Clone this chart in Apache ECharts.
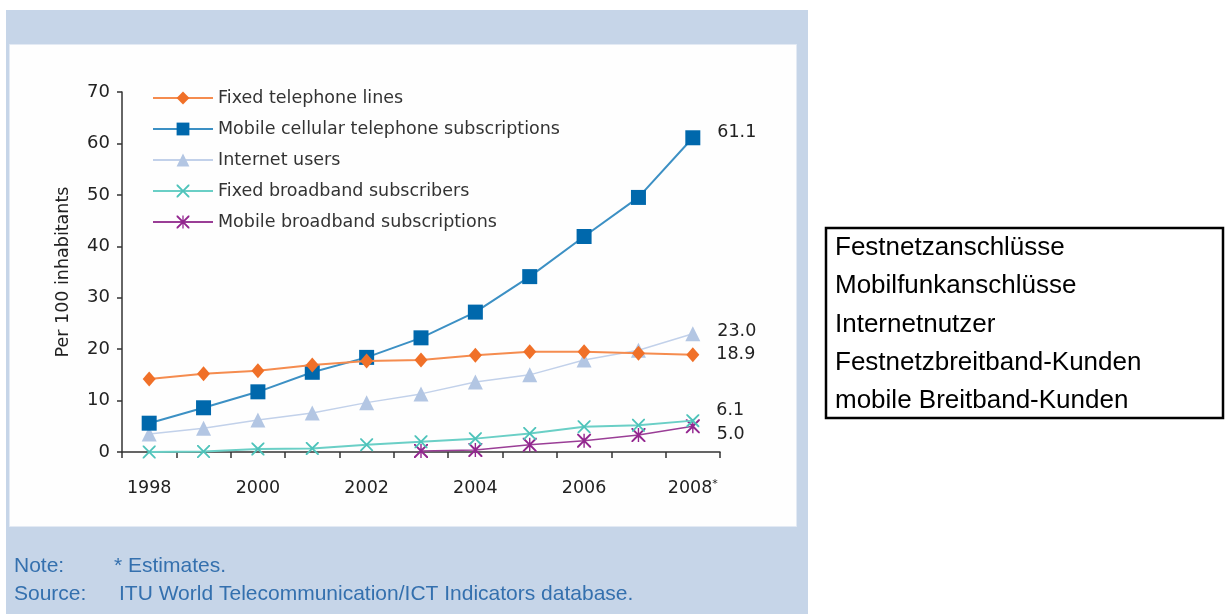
<!DOCTYPE html>
<html>
<head>
<meta charset="utf-8">
<script src="https://cdn.jsdelivr.net/npm/echarts@6/dist/echarts.min.js"></script>
<style>
  html, body { margin: 0; padding: 0; background: #fff; }
  #chart { width: 1225px; height: 614px; }
</style>
</head>
<body>
<div id="chart"></div>
<script>
// data
var years = ['1998', '1999', '2000', '2001', '2002', '2003', '2004', '2005', '2006', '2007', '2008*'];
var fixedTel = [14.2, 15.2, 15.8, 16.9, 17.7, 17.9, 18.8, 19.5, 19.5, 19.2, 18.9];
var mobileCell = [5.6, 8.6, 11.7, 15.5, 18.4, 22.2, 27.2, 34.1, 41.9, 49.5, 61.1];
var internetUsers = [3.5, 4.6, 6.2, 7.6, 9.6, 11.3, 13.6, 15.0, 17.9, 19.8, 23.0];
var fixedBroadband = [0.0, 0.1, 0.6, 0.7, 1.4, 2.0, 2.6, 3.6, 4.9, 5.2, 6.1];
var mobileBroadband = [null, null, null, null, null, 0.2, 0.4, 1.4, 2.2, 3.3, 5.0];
var seriesNames = ['Fixed telephone lines', 'Mobile cellular telephone subscriptions', 'Internet users',
  'Fixed broadband subscribers', 'Mobile broadband subscriptions'];
var germanNames = ['Festnetzanschlüsse', 'Mobilfunkanschlüsse', 'Internetnutzer',
  'Festnetzbreitband-Kunden', 'mobile Breitband-Kunden'];
var yTicks = { min: 0, max: 70, interval: 10 };
var noteLines = [['Note:', '* Estimates.'], ['Source:', 'ITU World Telecommunication/ICT Indicators database.']];

var FONT = 'DejaVu Sans';
var crossPath = 'path://M0,0 L1,0 L5,4 L9,0 L10,0 L10,1 L6,5 L10,9 L10,10 L9,10 L5,6 L1,10 L0,10 L0,9 L4,5 L0,1 Z';
var starPath = crossPath + ' M4.5,0 L5.5,0 L5.5,10 L4.5,10 Z';

// look of each line
var styles = [
  { data: fixedTel, line: '#F58C4F', mark: '#F07028', symbol: 'diamond', size: [13, 15], width: 2, dy: 0 },
  { data: mobileCell, line: '#3C90C4', mark: '#0068AC', symbol: 'rect', size: 15, width: 2, dy: -5 },
  { data: internetUsers, line: '#C2D1EA', mark: '#B3C6E3', symbol: 'triangle', size: 15, width: 1.5, dy: -2 },
  { data: fixedBroadband, line: '#6ACFC6', mark: '#4EC3BA', symbol: crossPath, size: 13, width: 2, dy: -10 },
  { data: mobileBroadband, line: '#9A3E96', mark: '#93268F', symbol: starPath, size: 14, width: 1.5, dy: 8 }
];

function buildSeries(st, i) {
  var last = st.data.length - 1;
  return {
    name: seriesNames[i],
    type: 'line',
    z: 10 - i,
    symbol: st.symbol,
    symbolSize: st.size,
    showAllSymbol: true,
    lineStyle: { color: st.line, width: st.width },
    itemStyle: { color: st.mark },
    data: st.data.map(function (v, k) {
      if (k !== last) return v;
      return {
        value: v,
        label: {
          show: true, position: 'right', distance: 17, offset: [0, st.dy],
          formatter: function (p) { return p.value.toFixed(1); },
          color: '#222', fontFamily: FONT, fontSize: 17.5
        }
      };
    })
  };
}

var chart = echarts.init(document.getElementById('chart'));

var graphics = [
  { type: 'rect', z: -20, shape: { x: 6, y: 10, width: 802, height: 604 }, style: { fill: '#C6D5E8' } },
  { type: 'rect', z: -19, shape: { x: 9.5, y: 44.5, width: 787, height: 482 },
    style: { fill: '#FEFEFE', stroke: '#E3EAF4', lineWidth: 1 } },
  { type: 'rect', z: -19, shape: { x: 826, y: 228, width: 397, height: 190 },
    style: { fill: '#fff', stroke: '#000', lineWidth: 2.5 } }
];
noteLines.forEach(function (row, i) {
  var y = 566 + i * 28;
  graphics.push({ type: 'text', x: 14, y: y, style: { text: row[0], fill: '#3470AE',
    font: '21px "Liberation Sans Narrow", "Liberation Sans"', verticalAlign: 'middle' } });
  graphics.push({ type: 'text', x: i === 0 ? 114 : 119, y: y, style: { text: row[1], fill: '#3470AE',
    font: '21px "Liberation Sans Narrow", "Liberation Sans"', verticalAlign: 'middle' } });
});
germanNames.forEach(function (t, i) {
  graphics.push({ type: 'text', x: 835, y: 248 + i * 38.3, style: { text: t, fill: '#000',
    font: '26px "Liberation Sans", Arial', verticalAlign: 'middle' } });
});

chart.setOption({
  animation: false,
  backgroundColor: '#fff',
  graphic: graphics,
  legend: {
    orient: 'vertical', left: 147, top: 84,
    itemWidth: 60, itemHeight: 16, itemGap: 13,
    textStyle: { fontFamily: FONT, fontSize: 17.5, color: '#333', lineHeight: 16 },
    data: seriesNames
  },
  grid: { left: 122, top: 92, width: 598, height: 360 },
  xAxis: {
    type: 'category', data: years, boundaryGap: true,
    axisLine: { lineStyle: { color: '#333', width: 1.5 } },
    axisTick: { show: true, interval: 0, length: 6, lineStyle: { color: '#333', width: 1.5 } },
    axisLabel: {
      interval: 1, margin: 27, color: '#222', fontFamily: FONT, fontSize: 17.5,
      formatter: function (v) { return v.replace('*', '{s|*}'); },
      rich: { s: { fontSize: 11, verticalAlign: 'top', color: '#222', fontFamily: FONT, padding: [0, 0, 8, 0] } }
    },
    splitLine: { show: false }
  },
  yAxis: {
    type: 'value', min: yTicks.min, max: yTicks.max, interval: yTicks.interval,
    name: 'Per 100 inhabitants', nameLocation: 'middle', nameGap: 50, nameRotate: 90,
    nameTextStyle: { fontFamily: FONT, fontSize: 17.5, color: '#222' },
    axisLine: { show: true, lineStyle: { color: '#333', width: 1.5 } },
    axisTick: { show: true, length: 5, lineStyle: { color: '#333', width: 1.5 } },
    axisLabel: { margin: 12, color: '#222', fontFamily: FONT, fontSize: 18 },
    splitLine: { show: false }
  },
  series: styles.map(buildSeries)
});
</script>
</body>
</html>
